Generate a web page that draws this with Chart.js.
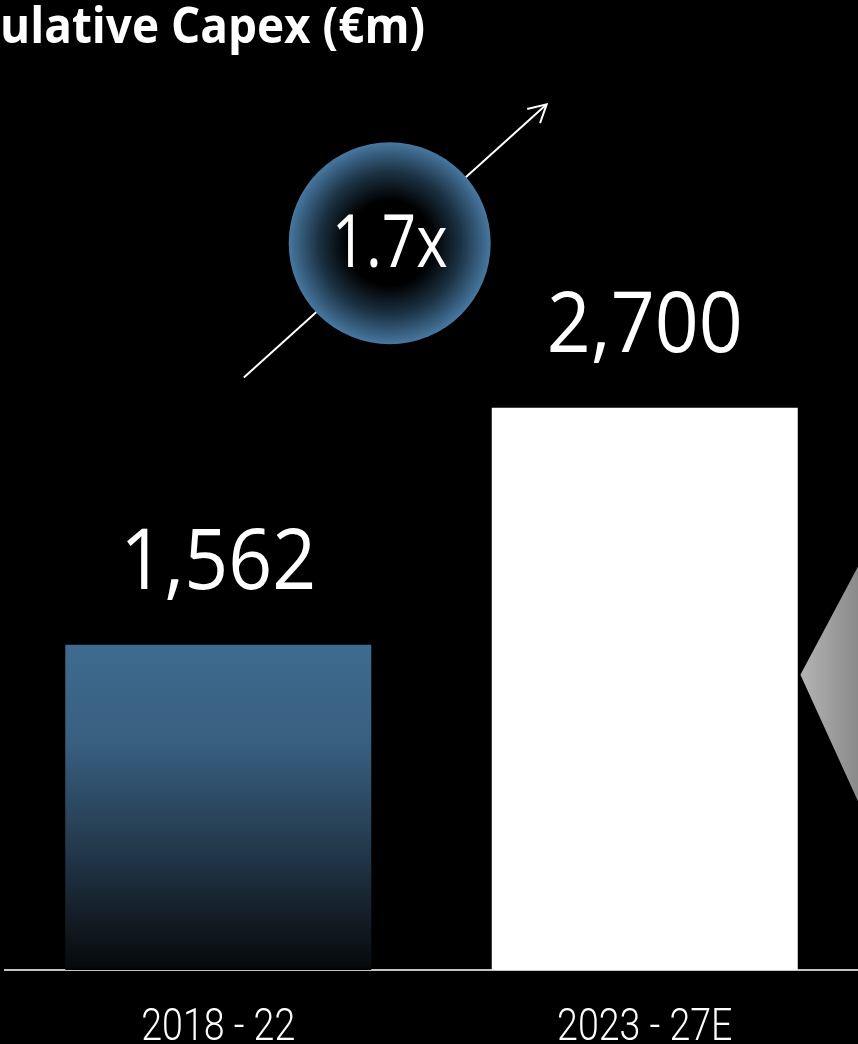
<!DOCTYPE html>
<html>
<head>
<meta charset="utf-8">
<script src="https://cdn.jsdelivr.net/npm/chart.js@4"></script>
<style>
  html, body { margin: 0; padding: 0; background: #000; }
  #chart { display: block; }
</style>
</head>
<body>
<canvas id="chart" width="858" height="1044"></canvas>
<script>
// data
const categories = ["2018 - 22", "2023 - 27E"];
const capexValues = [1562, 2700];
const valueLabels = ["1,562", "2,700"];
const growthLabel = "1.7x";
const titleText = "ulative Capex (€m)";

const Y_MAX = 4000;

// draws text squeezed horizontally so it fits a target width
function drawFitted(ctx, text, x, y, targetWidth, align) {
    var w = ctx.measureText(text).width;
    var sx = targetWidth / w;
    ctx.save();
    ctx.translate(x, y);
    ctx.scale(sx, 1);
    ctx.textAlign = align;
    ctx.fillText(text, 0, 0);
    ctx.restore();
}

const decorPlugin = {
    id: "decor",
    beforeDraw(chart) {
        var ctx = chart.ctx;
        ctx.save();
        ctx.fillStyle = "#000";
        ctx.fillRect(0, 0, chart.width, chart.height);
        ctx.restore();
    },
    afterDatasetsDraw(chart) {
        var ctx = chart.ctx;
        var xs = chart.scales.x;
        var ys = chart.scales.y;

        // grey chevron peeking in at the right edge
        var ax = xs.getPixelForValue(1.365), ay = ys.getPixelForValue(1418);
        ctx.save();
        var g = ctx.createLinearGradient(ax, 0, chart.width, 0);
        g.addColorStop(0, "#b4b4b4");
        g.addColorStop(1, "#8a8a8a");
        ctx.fillStyle = g;
        ctx.beginPath();
        ctx.moveTo(ax, ay);
        ctx.lineTo(ax + 100, ay - 188);
        ctx.lineTo(chart.width + 10, ay - 188);
        ctx.lineTo(chart.width + 10, ay + 220);
        ctx.lineTo(ax + 100, ay + 220);
        ctx.closePath();
        ctx.fill();
        ctx.restore();

        // growth arrow
        var x0 = xs.getPixelForValue(0.06), y0 = ys.getPixelForValue(2845);
        var x1 = xs.getPixelForValue(0.77), y1 = ys.getPixelForValue(4157);
        ctx.save();
        ctx.strokeStyle = "#fff";
        ctx.lineWidth = 2;
        ctx.beginPath();
        ctx.moveTo(x0, y0);
        ctx.lineTo(x1, y1);
        ctx.stroke();
        var ang = Math.atan2(y1 - y0, x1 - x0);
        var len = 20;
        ctx.beginPath();
        ctx.moveTo(x1 - len * Math.cos(ang - 0.5), y1 - len * Math.sin(ang - 0.5));
        ctx.lineTo(x1, y1);
        ctx.lineTo(x1 - len * Math.cos(ang + 0.5), y1 - len * Math.sin(ang + 0.5));
        ctx.stroke();
        ctx.restore();

        // circle with the multiple
        var cx = xs.getPixelForValue(0.402), cy = ys.getPixelForValue(3490);
        var r = 101;
        ctx.save();
        var rg = ctx.createRadialGradient(cx, cy, 0, cx, cy, r);
        rg.addColorStop(0, "#000");
        rg.addColorStop(0.42, "#000");
        rg.addColorStop(0.7, "#1b3142");
        rg.addColorStop(1, "#4777a0");
        ctx.fillStyle = rg;
        ctx.beginPath();
        ctx.arc(cx, cy, r, 0, Math.PI * 2);
        ctx.fill();
        ctx.fillStyle = "#fff";
        ctx.font = "400 73px 'Open Sans'";
        ctx.textBaseline = "alphabetic";
        drawFitted(ctx, growthLabel, cx, cy + 24, 116, "center");
        ctx.restore();

        // value labels above the bars
        var meta = chart.getDatasetMeta(0);
        ctx.save();
        ctx.fillStyle = "#fff";
        ctx.font = "400 85px 'Open Sans'";
        ctx.textBaseline = "alphabetic";
        var sx = 196 / ctx.measureText(valueLabels[0]).width;
        meta.data.forEach(function (bar, i) {
            ctx.save();
            ctx.translate(bar.x, bar.y - 56);
            ctx.scale(sx, 1);
            ctx.textAlign = "center";
            ctx.fillText(valueLabels[i], 0, 0);
            ctx.restore();
        });
        ctx.restore();

        // category labels under the axis, light and condensed
        ctx.save();
        ctx.fillStyle = "#fff";
        ctx.font = "300 44px Roboto";
        ctx.textBaseline = "alphabetic";
        var tx = 154 / ctx.measureText(categories[0]).width;
        categories.forEach(function (label, i) {
            ctx.save();
            ctx.translate(xs.getPixelForTick(i), xs.top + 70);
            ctx.scale(tx, 1);
            ctx.textAlign = "center";
            ctx.fillText(label, 0, 0);
            ctx.restore();
        });
        ctx.restore();

        // title, cut at the left edge
        ctx.save();
        ctx.fillStyle = "#fff";
        ctx.font = "700 50px 'Open Sans'";
        ctx.textBaseline = "alphabetic";
        drawFitted(ctx, titleText, 0, 43, 425, "left");
        ctx.restore();
    }
};

function barColor(context) {
    var chart = context.chart;
    if (context.dataIndex == 1)
        return "#ffffff";
    if (!chart.chartArea)
        return "#3e6b8f";
    var top = chart.scales.y.getPixelForValue(capexValues[0]);
    var bottom = chart.scales.y.getPixelForValue(0);
    var g = chart.ctx.createLinearGradient(0, top, 0, bottom);
    g.addColorStop(0, "#3e6b8f");
    g.addColorStop(0.3, "#385f80");
    g.addColorStop(0.6, "#253c50");
    g.addColorStop(0.9, "#0f151c");
    g.addColorStop(0.99, "#060a0d");
    g.addColorStop(1, "#000");
    return g;
}

new Chart(document.getElementById("chart"), {
    type: "bar",
    data: {
        labels: categories,
        datasets: [{
            data: capexValues,
            backgroundColor: barColor,
            borderWidth: 0,
            barPercentage: 0.7175,
            categoryPercentage: 1
        }]
    },
    options: {
        responsive: false,
        animation: false,
        devicePixelRatio: 1,
        layout: { padding: { left: 5, right: 0, top: 137, bottom: 0 } },
        plugins: {
            legend: { display: false },
            tooltip: { enabled: false },
            title: { display: false }
        },
        scales: {
            x: {
                grid: { display: false, drawTicks: false },
                border: { display: true, color: "#c4c4c4", width: 2 },
                // labels are drawn by the decor plugin so they can be condensed
                ticks: { display: false },
                afterFit: function (scale) { scale.height = 74; }
            },
            y: {
                display: false,
                min: 0,
                max: Y_MAX
            }
        }
    },
    plugins: [decorPlugin]
});
</script>
</body>
</html>
